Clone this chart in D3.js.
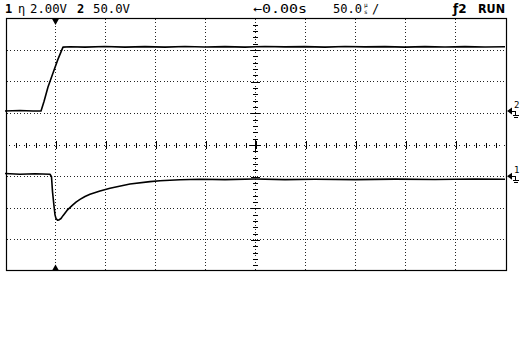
<!DOCTYPE html>
<html>
<head>
<meta charset="utf-8">
<script src="https://cdn.jsdelivr.net/npm/d3@7"></script>
<style>
  html, body { margin: 0; padding: 0; background: #fff; }
  svg { display: block; }
  text { font-family: "DejaVu Sans Mono", monospace; font-size: 12px; fill: #000; }
  .bold { font-weight: bold; }
</style>
</head>
<body>
<svg id="scope" width="522" height="360"></svg>
<script>
// channel 2 (top trace), time in us, value in volts
const ch2Time  = [-250, -235, -222, -214, -211, -207, -202, -197, -192, -185, -170, -150, -130, -110, -90, -70, -50, -30, -10, 10, 30, 50, 70, 90, 110, 130, 150, 170, 190, 210, 230, 250];
const ch2Volts = [0, 0.8, 0, 0, 15, 38, 60, 82, 101, 101.5, 101, 102, 101, 101.8, 101, 102, 101.2, 101.8, 101, 102, 101.4, 101.8, 101, 102, 101.3, 101.8, 101, 101.8, 101.2, 101.8, 101.2, 101.6];

// channel 1 (bottom trace)
const ch1Time  = [-250, -235, -220, -205, -203.5, -202.5, -201, -200, -199, -197.5, -196, -194, -192, -188, -183, -179, -175, -170, -165, -155, -145, -138, -125, -105, -95, -75, -55, -30, 0, 30, 60, 100, 140, 180, 220, 250];
const ch1Volts = [0.17, 0.12, 0.15, 0.12, -0.04, -0.98, -1.89, -2.45, -2.68, -2.78, -2.77, -2.68, -2.50, -2.17, -1.87, -1.64, -1.47, -1.29, -1.15, -0.94, -0.77, -0.67, -0.50, -0.35, -0.29, -0.23, -0.20, -0.22, -0.18, -0.22, -0.20, -0.22, -0.19, -0.21, -0.18, -0.20];

const voltsPerDiv = { ch1: 2.0, ch2: 50.0 };
const groundDiv = { ch1: -1.0, ch2: 1.06 };
const triggerTime = -200;

const headerLeft = ['1', '\u03B7', '2.00V', '2', '50.0V'];
const headerTime = ['\u21900.00s', '50.0', '\u00B5', 's', '/'];
const headerRun = ['\u01922', 'RUN'];

const svg = d3.select('#scope');
const x = d3.scaleLinear().domain([-250, 250]).range([5, 505]);
const y = d3.scaleLinear().domain([-4, 4]).range([271, 18]);
const px = v => Math.round(v) + 0.5;

// dotted graticule
const grid = svg.append('g')
  .attr('stroke', '#222')
  .attr('stroke-width', 1)
  .attr('stroke-dasharray', '1 2.33')
  .attr('shape-rendering', 'crispEdges');

grid.selectAll('.vgrid')
  .data(d3.range(-200, 201, 50))
  .enter()
  .append('line')
  .attr('x1', d => px(x(d)))
  .attr('x2', d => px(x(d)))
  .attr('y1', 19)
  .attr('y2', 271);

grid.selectAll('.hgrid')
  .data(d3.range(-3, 4).filter(d => d !== 0))
  .enter()
  .append('line')
  .attr('x1', 7)
  .attr('x2', 506)
  .attr('y1', d => px(y(d)))
  .attr('y2', d => px(y(d)));

// center horizontal axis: dots + ticks
svg.append('line')
  .attr('x1', 7).attr('x2', 506)
  .attr('y1', px(y(0))).attr('y2', px(y(0)))
  .attr('stroke', '#222')
  .attr('stroke-dasharray', '1 4')
  .attr('stroke-dashoffset', -2)
  .attr('shape-rendering', 'crispEdges');

const hMinor = d3.axisBottom(x)
  .tickValues(d3.range(-240, 250, 10).filter(d => d % 50 !== 0))
  .tickSize(5).tickFormat('');
const hMajor = d3.axisBottom(x)
  .tickValues(d3.range(-200, 201, 50))
  .tickSize(8).tickFormat('');

svg.append('g').attr('transform', `translate(0.5, ${Math.round(y(0)) - 2})`).call(hMinor);
svg.append('g').attr('transform', `translate(0.5, ${Math.round(y(0)) - 4})`).call(hMajor);

// center vertical axis ticks
const vMinor = d3.axisRight(y)
  .tickValues(d3.range(-3.8, 4, 0.2).filter(d => Math.abs(d - Math.round(d)) > 0.01))
  .tickSize(5).tickFormat('');
const vMajor = d3.axisRight(y)
  .tickValues(d3.range(-3, 4, 1))
  .tickSize(9).tickFormat('');

svg.append('g').attr('transform', `translate(${Math.round(x(0)) - 2}, 0.5)`).call(vMinor);
svg.append('g').attr('transform', `translate(${Math.round(x(0)) - 4}, 0.5)`).call(vMajor);

svg.selectAll('.domain').remove();
svg.selectAll('.tick line')
  .attr('stroke', '#000')
  .attr('shape-rendering', 'crispEdges');

// center cross
svg.append('line')
  .attr('x1', 249).attr('x2', 261)
  .attr('y1', px(y(0))).attr('y2', px(y(0)))
  .attr('stroke', '#000').attr('shape-rendering', 'crispEdges');
svg.append('line')
  .attr('x1', px(x(0))).attr('x2', px(x(0)))
  .attr('y1', y(0) - 6).attr('y2', y(0) + 6)
  .attr('stroke', '#000').attr('shape-rendering', 'crispEdges');

// frame
svg.append('rect')
  .attr('x', 6.5).attr('y', 18.5)
  .attr('width', 500).attr('height', 252)
  .attr('fill', 'none')
  .attr('stroke', '#000')
  .attr('stroke-width', 1.2);

// traces
const traces = [
  { ch: 'ch2', data: ch2Time.map((t, i) => ({ t, v: ch2Volts[i] })) },
  { ch: 'ch1', data: ch1Time.map((t, i) => ({ t, v: ch1Volts[i] })) }
];

traces.forEach(tr => {
  const line = d3.line()
    .x(d => x(d.t))
    .y(d => y(d.v / voltsPerDiv[tr.ch] + groundDiv[tr.ch]));
  svg.append('path')
    .datum(tr.data)
    .attr('d', line)
    .attr('fill', 'none')
    .attr('stroke', '#000')
    .attr('stroke-width', 1.6)
    .attr('stroke-linejoin', 'round');
});

// trigger markers
svg.append('path')
  .attr('d', d3.symbol(d3.symbolTriangle, 20)())
  .attr('transform', `translate(${x(triggerTime) + 0.5}, 21) rotate(180)`)
  .attr('fill', '#000');
svg.append('path')
  .attr('d', d3.symbol(d3.symbolTriangle, 20)())
  .attr('transform', `translate(${x(triggerTime) + 0.5}, 268.5)`)
  .attr('fill', '#000');

// ground markers on the right
[['ch2', '2'], ['ch1', '1']].forEach(([ch, label]) => {
  const gy = y(groundDiv[ch]);
  const g = svg.append('g').attr('stroke', '#000').attr('shape-rendering', 'crispEdges');
  svg.append('path')
    .attr('d', `M507,${gy}L512,${gy - 3.5}L512,${gy + 3.5}Z`)
    .attr('fill', '#000');
  g.append('line').attr('x1', 512).attr('x2', 516).attr('y1', Math.round(gy) + 0.5).attr('y2', Math.round(gy) + 0.5);
  g.append('line').attr('x1', 515.5).attr('x2', 515.5).attr('y1', gy).attr('y2', gy + 4);
  g.append('line').attr('x1', 513).attr('x2', 519).attr('y1', Math.round(gy) + 4.5).attr('y2', Math.round(gy) + 4.5);
  g.append('line').attr('x1', 514).attr('x2', 518).attr('y1', Math.round(gy) + 6.5).attr('y2', Math.round(gy) + 6.5);
  svg.append('text')
    .attr('x', 514).attr('y', gy - 3)
    .style('font-size', '9px')
    .text(label);
});

// header texts
const hdr = svg.append('g');
hdr.append('text').attr('class', 'bold').attr('x', 5).attr('y', 13).text(headerLeft[0]);
hdr.append('text').attr('x', 18).attr('y', 13).text(headerLeft[1]);
hdr.append('text').attr('x', 30).attr('y', 13).attr('textLength', 37).attr('lengthAdjust', 'spacingAndGlyphs').text(headerLeft[2]);
hdr.append('text').attr('class', 'bold').attr('x', 77).attr('y', 13).text(headerLeft[3]);
hdr.append('text').attr('x', 93).attr('y', 13).attr('textLength', 37).attr('lengthAdjust', 'spacingAndGlyphs').text(headerLeft[4]);

hdr.append('text').attr('x', 253).attr('y', 13).attr('textLength', 54).attr('lengthAdjust', 'spacingAndGlyphs').text(headerTime[0]);
hdr.append('text').attr('x', 333).attr('y', 13).attr('textLength', 29).attr('lengthAdjust', 'spacingAndGlyphs').text(headerTime[1]);
hdr.append('text').attr('x', 364).attr('y', 7).style('font-size', '6px').text(headerTime[2]);
hdr.append('text').attr('x', 364).attr('y', 14).style('font-size', '6px').text(headerTime[3]);
hdr.append('text').attr('x', 372).attr('y', 13).text(headerTime[4]);

hdr.append('text').attr('class', 'bold').attr('x', 453).attr('y', 13)
  .style('font-family', '"DejaVu Sans", sans-serif').text(headerRun[0]);
hdr.append('text').attr('class', 'bold').attr('x', 478).attr('y', 13)
  .style('font-family', '"DejaVu Sans", sans-serif')
  .attr('textLength', 27).attr('lengthAdjust', 'spacingAndGlyphs').text(headerRun[1]);
</script>
</body>
</html>
